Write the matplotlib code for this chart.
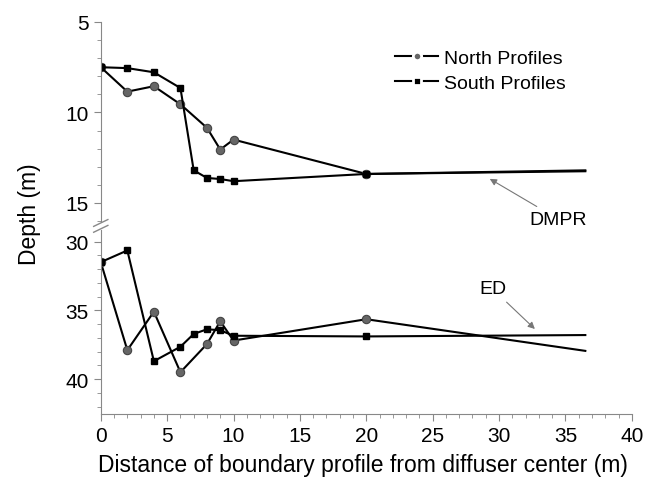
import matplotlib.pyplot as plt
from matplotlib.lines import Line2D
from matplotlib.ticker import MultipleLocator

plt.rcParams['font.family'] = ['Liberation Sans', 'DejaVu Sans']

# DMPR (upper panel)
north_x_dmpr = [0, 2, 4, 6, 8, 9, 10, 20, 36.5]
north_dmpr = [7.5, 8.85, 8.55, 9.55, 10.85, 12.05, 11.5, 13.4, 13.25]
south_x_dmpr = [0, 2, 4, 6, 7, 8, 9, 10, 20, 36.5]
south_dmpr = [7.5, 7.55, 7.78, 8.65, 13.2, 13.62, 13.68, 13.8, 13.4, 13.2]

# ED (lower panel)
north_x_ed = [0, 2, 4, 6, 8, 9, 10, 20, 36.5]
north_ed = [31.5, 37.9, 35.1, 39.5, 37.45, 35.8, 37.2, 35.65, 37.95]
south_x_ed = [0, 2, 4, 6, 7, 8, 9, 10, 20, 36.5]
south_ed = [31.5, 30.65, 38.7, 37.65, 36.72, 36.38, 36.45, 36.85, 36.9, 36.8]

fig = plt.figure(figsize=(6.46, 4.89), dpi=100)
ax_top = fig.add_axes([0.156, 0.546, 0.822, 0.407])
ax_bot = fig.add_axes([0.156, 0.151, 0.822, 0.377])

north_style = dict(color='black', lw=1.5, marker='o', ms=6, mfc='#666666', mec='#444444', mew=0.8)
south_style = dict(color='black', lw=1.5, marker='s', ms=5, mfc='black', mec='black')

for ax, nx, ny, sx, sy in [(ax_top, north_x_dmpr, north_dmpr, south_x_dmpr, south_dmpr),
                           (ax_bot, north_x_ed, north_ed, south_x_ed, south_ed)]:
    ax.plot(nx, ny, markevery=list(range(len(nx) - 1)), **north_style)
    ax.plot(sx, sy, markevery=list(range(len(sx) - 1)), **south_style)
    ax.set_xlim(0, 40)
    for s in ['top', 'right']:
        ax.spines[s].set_visible(False)
    ax.spines['left'].set_color('#888888')
    ax.spines['bottom'].set_color('#888888')
    ax.yaxis.set_minor_locator(MultipleLocator(1))
    ax.tick_params(axis='both', which='major', direction='out', length=5, color='#888888', labelsize=15)
    ax.tick_params(axis='both', which='minor', direction='out', length=3, color='#888888')

ax_top.set_ylim(16.0, 5)
ax_top.set_yticks([5, 10, 15])
ax_top.spines['bottom'].set_visible(False)
ax_top.tick_params(axis='x', which='both', bottom=False, labelbottom=False)

ax_bot.set_ylim(42.55, 29.15)
ax_bot.set_yticks([30, 35, 40])
ax_bot.set_xticks([0, 5, 10, 15, 20, 25, 30, 35, 40])
ax_bot.xaxis.set_minor_locator(MultipleLocator(1))

# break marks on the y axis
kw = dict(color='#888888', lw=1, clip_on=False)
fig.add_artist(plt.Line2D([0.145, 0.167], [0.535, 0.549], **kw))
fig.add_artist(plt.Line2D([0.145, 0.167], [0.523, 0.537], **kw))

handles = [Line2D([], [], color='black', lw=1.5, marker='o', ms=6, mfc='#666666', mec='white', mew=2),
           Line2D([], [], color='black', lw=1.5, marker='s', ms=5.5, mfc='black', mec='white', mew=2)]
ax_top.legend(handles, ['North Profiles', 'South Profiles'], loc='upper left',
              bbox_to_anchor=(0.54, 0.9), frameon=False, fontsize=14,
              handlelength=2.2, handletextpad=0.3, labelspacing=0.35, borderaxespad=0)

ax_top.annotate('DMPR', xy=(29.3, 13.67), xytext=(32.3, 15.9), fontsize=14, va='center',
                arrowprops=dict(arrowstyle='-|>', color='#777777', lw=0.8, shrinkA=2, shrinkB=0,
                                mutation_scale=10))
ax_bot.annotate('ED', xy=(32.7, 36.36), xytext=(28.5, 33.45), fontsize=14, va='center',
                arrowprops=dict(arrowstyle='-|>', color='#777777', lw=0.8, shrinkA=2, shrinkB=0,
                                mutation_scale=10))

fig.text(0.046, 0.562, 'Depth (m)', rotation=90, fontsize=16.5, ha='center', va='center')
fig.text(0.562, 0.048, 'Distance of boundary profile from diffuser center (m)', fontsize=16.5,
         ha='center', va='center')

fig.savefig('out.png', dpi=100)
